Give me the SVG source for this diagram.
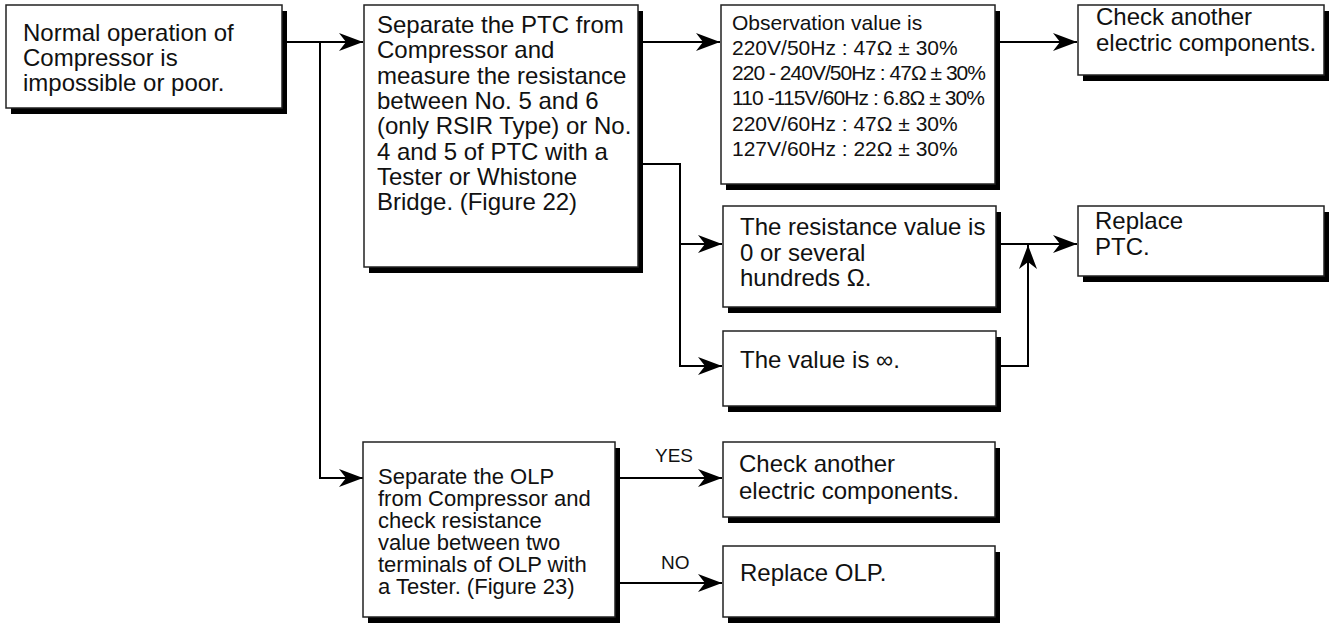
<svg xmlns="http://www.w3.org/2000/svg" width="1330" height="623" viewBox="0 0 1330 623">
<defs>
<style>
.box{fill:#fff;stroke:#222;stroke-width:1.5}
.sh{fill:#000}
.t{font-family:"Liberation Sans",Arial,sans-serif;font-size:24px;fill:#111}
.s{font-family:"Liberation Sans",Arial,sans-serif;font-size:21px;fill:#111}
.o{font-family:"Liberation Sans",Arial,sans-serif;font-size:22px;fill:#111}
.l{font-family:"Liberation Sans",Arial,sans-serif;font-size:19px;fill:#111}
.c{fill:none;stroke:#000;stroke-width:2}
</style>
<marker id="ah" markerWidth="24" markerHeight="18" refX="24" refY="9" orient="auto" markerUnits="userSpaceOnUse">
<path d="M0,0 L24,9 L0,18 L7,9 Z" fill="#000"/>
</marker>
</defs>
<rect width="1330" height="623" fill="#fff"/>

<g id="connectors">
<path class="c" d="M282,42 H363" marker-end="url(#ah)"/>
<path class="c" d="M320,42 V478 H363" marker-end="url(#ah)"/>
<path class="c" d="M638,42 H720" marker-end="url(#ah)"/>
<path class="c" d="M995,42 H1077" marker-end="url(#ah)"/>
<path class="c" d="M638,164 H680 V244 H722" marker-end="url(#ah)"/>
<path class="c" d="M680,244 V366 H722" marker-end="url(#ah)"/>
<path class="c" d="M996,244 H1077" marker-end="url(#ah)"/>
<path class="c" d="M996,366 H1028 V245" marker-end="url(#ah)"/>
<path class="c" d="M615,478 H722" marker-end="url(#ah)"/>
<path class="c" d="M615,583 H722" marker-end="url(#ah)"/>
<text class="l" x="655" y="462">YES</text>
<text class="l" x="661" y="569">NO</text>
</g>

<g id="n1">
<rect class="sh" x="11" y="11" width="276" height="103"/>
<rect class="box" x="6" y="5" width="276" height="103"/>
<text class="t" x="23" y="41">Normal operation of</text>
<text class="t" x="23" y="66">Compressor is</text>
<text class="t" x="23" y="91">impossible or poor.</text>
</g>

<g id="n2">
<rect class="sh" x="369" y="11" width="274" height="262"/>
<rect class="box" x="364" y="5" width="274" height="262"/>
<text class="t" x="377" y="33">Separate the PTC from</text>
<text class="t" x="377" y="58.3">Compressor and</text>
<text class="t" x="377" y="83.6">measure the resistance</text>
<text class="t" x="377" y="109">between No. 5 and 6</text>
<text class="t" x="377" y="134.2">(only RSIR Type) or No.</text>
<text class="t" x="377" y="159.5">4 and 5 of PTC with a</text>
<text class="t" x="377" y="184.8">Tester or Whistone</text>
<text class="t" x="377" y="210">Bridge. (Figure 22)</text>
</g>

<g id="n3">
<rect class="sh" x="726" y="11" width="274" height="179"/>
<rect class="box" x="721" y="5" width="274" height="179"/>
<text class="s" x="732" y="29.5">Observation value is</text>
<text class="s" x="732" y="54.8">220V/50Hz : 47Ω ± 30%</text>
<text class="s" x="732" y="80" textLength="254" lengthAdjust="spacing">220 - 240V/50Hz : 47Ω ± 30%</text>
<text class="s" x="732" y="105.3" textLength="253" lengthAdjust="spacing">110 -115V/60Hz : 6.8Ω ± 30%</text>
<text class="s" x="732" y="130.5">220V/60Hz : 47Ω ± 30%</text>
<text class="s" x="732" y="155.8">127V/60Hz : 22Ω ± 30%</text>
</g>

<g id="n4">
<rect class="sh" x="1083" y="11" width="246" height="70"/>
<rect class="box" x="1078" y="5" width="246" height="70"/>
<text class="t" x="1096" y="25">Check another</text>
<text class="t" x="1096" y="51">electric components.</text>
</g>

<g id="n5">
<rect class="sh" x="728" y="212" width="273" height="101"/>
<rect class="box" x="723" y="206" width="273" height="101"/>
<text class="t" x="740" y="235">The resistance value is</text>
<text class="t" x="740" y="260.5">0 or several</text>
<text class="t" x="740" y="286">hundreds Ω.</text>
</g>

<g id="n6">
<rect class="sh" x="728" y="337" width="273" height="75"/>
<rect class="box" x="723" y="331" width="273" height="75"/>
<text class="t" x="740" y="368">The value is ∞.</text>
</g>

<g id="n7">
<rect class="sh" x="1083" y="212" width="246" height="70"/>
<rect class="box" x="1078" y="206" width="246" height="70"/>
<text class="t" x="1095" y="229">Replace</text>
<text class="t" x="1095" y="255">PTC.</text>
</g>

<g id="n8">
<rect class="sh" x="368" y="448" width="252" height="175"/>
<rect class="box" x="363" y="442" width="252" height="175"/>
<text class="o" x="378" y="484">Separate the OLP</text>
<text class="o" x="378" y="506">from Compressor and</text>
<text class="o" x="378" y="528">check resistance</text>
<text class="o" x="378" y="550">value between two</text>
<text class="o" x="378" y="572">terminals of OLP with</text>
<text class="o" x="378" y="594">a Tester. (Figure 23)</text>
</g>

<g id="n9">
<rect class="sh" x="728" y="448" width="272" height="75"/>
<rect class="box" x="723" y="442" width="272" height="75"/>
<text class="t" x="739" y="472">Check another</text>
<text class="t" x="739" y="499">electric components.</text>
</g>

<g id="n10">
<rect class="sh" x="728" y="552" width="272" height="71"/>
<rect class="box" x="723" y="546" width="272" height="71"/>
<text class="t" x="740" y="581">Replace OLP.</text>
</g>
</svg>
